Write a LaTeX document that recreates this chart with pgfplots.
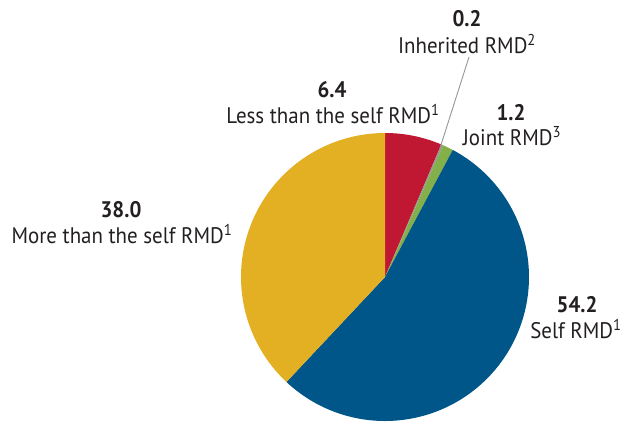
\documentclass[border=0pt]{standalone}
\usepackage{pgfplots}
\pgfplotsset{compat=1.18}
\usepackage{fontspec}
\setmainfont[FakeStretch=0.93]{PT Sans}
\definecolor{cred}{RGB}{192,24,50}
\definecolor{cgrey}{RGB}{150,150,150}
\definecolor{cgreen}{RGB}{132,176,74}
\definecolor{cblue}{RGB}{0,86,137}
\definecolor{cyellow}{RGB}{227,175,35}
\definecolor{ctext}{RGB}{35,31,32}
\begin{document}
\begin{tikzpicture}
% slice values (percent), clockwise from 12 o'clock
\def\vLess{6.4}
\def\vInh{0.2}
\def\vJoint{1.2}
\def\vSelf{54.2}
\def\vMore{38.0}
\pgfmathsetmacro\aA{90-3.6*\vLess}
\pgfmathsetmacro\aB{\aA-3.6*\vInh}
\pgfmathsetmacro\aC{\aB-3.6*\vJoint}
\pgfmathsetmacro\aD{\aC-3.6*\vSelf}
\pgfmathsetmacro\aE{\aD-3.6*\vMore}
\begin{axis}[scale only axis, width=623pt, height=424pt,
  xmin=0, xmax=623, ymin=0, ymax=424, y dir=reverse,
  hide axis, clip=false]
\addplot[fill=cred, draw=none, domain=\aA:90, samples=30] ({385+144*cos(x)},{277-144*sin(x)}) -- (axis cs:385,277) -- cycle;
\addplot[fill=cgrey, draw=none, domain=\aB:\aA, samples=3] ({385+144*cos(x)},{277-144*sin(x)}) -- (axis cs:385,277) -- cycle;
\addplot[fill=cgreen, draw=none, domain=\aC:\aB, samples=5] ({385+144*cos(x)},{277-144*sin(x)}) -- (axis cs:385,277) -- cycle;
\addplot[fill=cblue, draw=none, domain=\aD:\aC, samples=150] ({385+144*cos(x)},{277-144*sin(x)}) -- (axis cs:385,277) -- cycle;
\addplot[fill=cyellow, draw=none, domain=\aE:\aD, samples=110] ({385+144*cos(x)},{277-144*sin(x)}) -- (axis cs:385,277) -- cycle;
% leader line
\addplot[cgrey, line width=0.9pt] coordinates {(469,57) (440,148)};
% labels
\begin{scope}[every node/.style={text=ctext, inner sep=0pt}]
\node[anchor=base, font=\bfseries\fontsize{22.5}{22.5}\selectfont] at (axis cs:467,26) {0.2};
\node[anchor=base, font=\fontsize{22.5}{22.5}\selectfont] at (axis cs:467,53) {Inherited RMD\textsuperscript{2}};
\node[anchor=base, font=\bfseries\fontsize{22.5}{22.5}\selectfont] at (axis cs:511,120) {1.2};
\node[anchor=base, font=\fontsize{22.5}{22.5}\selectfont] at (axis cs:512,145) {Joint RMD\textsuperscript{3}};
\node[anchor=base, font=\bfseries\fontsize{22.5}{22.5}\selectfont] at (axis cs:332,97) {6.4};
\node[anchor=base, font=\fontsize{22.5}{22.5}\selectfont] at (axis cs:333,123) {Less than the self RMD\textsuperscript{1}};
\node[anchor=base, font=\bfseries\fontsize{22.5}{22.5}\selectfont] at (axis cs:121,217) {38.0};
\node[anchor=base, font=\fontsize{22.5}{22.5}\selectfont] at (axis cs:122,243) {More than the self RMD\textsuperscript{1}};
\node[anchor=base, font=\bfseries\fontsize{22.5}{22.5}\selectfont] at (axis cs:577,312) {54.2};
\node[anchor=base, font=\fontsize{22.5}{22.5}\selectfont] at (axis cs:576,338) {Self RMD\textsuperscript{1}};
\end{scope}
\end{axis}
\pgfresetboundingbox
\path (current axis.south west) rectangle (current axis.north east);
\end{tikzpicture}
\end{document}
